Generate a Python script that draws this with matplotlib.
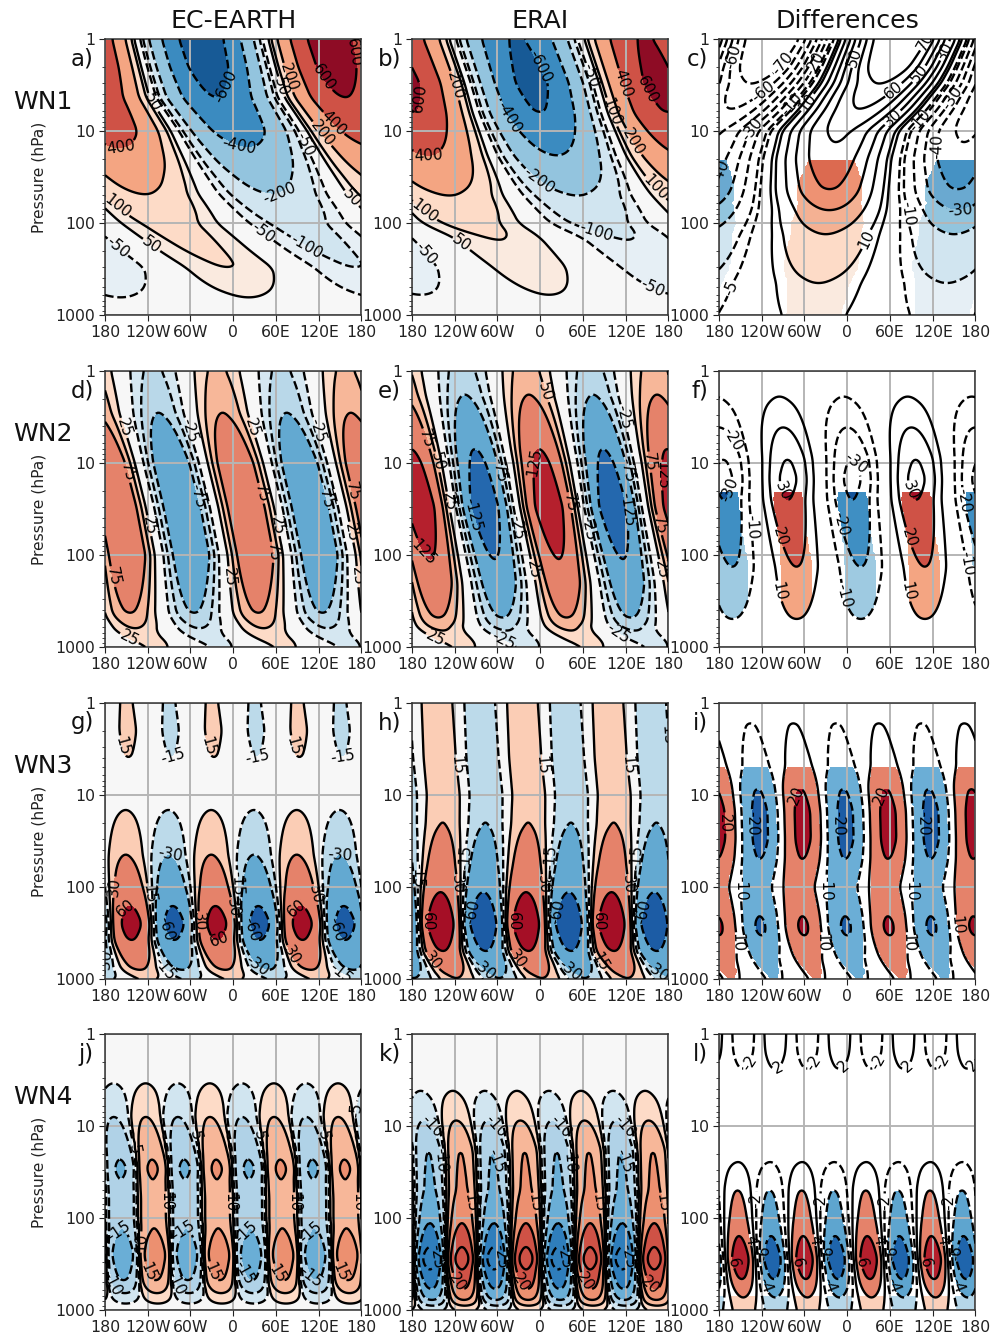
import numpy as np
import matplotlib
matplotlib.use("Agg")
import matplotlib.pyplot as plt
from matplotlib.ticker import FixedLocator, FixedFormatter, NullFormatter

plt.rcParams['font.family'] = 'DejaVu Sans'
plt.rcParams['contour.negative_linestyle'] = 'dashed'

# amplitude and ridge longitude of each zonal wave, read level by level from the picture
p_a = [1, 2, 4.3, 10, 15, 30, 48, 100, 200, 310, 630, 1000]
amp_a = [700, 680, 600, 500, 400, 265, 200, 130, 112, 100, 50, 32]
ph_a = [135, 145, 157, 188, 200, 221, 235, 270, 320, 355, 382, 390]

p_b = [1, 3, 6.4, 18.4, 49, 100, 147, 300, 600, 1000]
amp_b = [610, 650, 600, 400, 200, 130, 100, 80, 50, 30]
ph_b = [147, 168, 180, 203, 231, 262, 301, 344, 373, 385]

p_c = [1, 2, 3, 5.7, 10, 20, 44, 72, 129, 437, 1000]
amp_c = [88, 80, 70, 60, 52, 47, 40, 30, 20, 10, 7]
ph_c = [75, 58, 46, 18, -12, -22, -25, -25, -30, -40, -47]
sig_c_p = [1, 19, 20, 35, 60, 100, 200, 300, 1000]
sig_c_v = [1e6, 1e6, 40, 30, 24, 15, 10, 8, 5.5]

p_d = [1, 2.9, 10, 30, 100, 436, 700, 1000]
amp_d = [55, 75, 118, 122, 120, 75, 42, 28]
ph_d = [-23, -15, 3, 18, 31, 35, 45, 75]

p_e = [1, 1.84, 7, 10, 30, 110, 200, 490, 650, 1000]
amp_e = [62, 75, 125, 135, 160, 125, 112, 75, 50, 28]
ph_e = [-20, -16, -2, 2, 12, 26, 32, 37, 40, 75]

p_f = [1, 1.95, 4.1, 9, 15, 25, 135, 500, 1000]
amp_f = [6, 10, 20, 30, 33, 30, 20, 10, 3]
ph_f = [-100, -95, -90, -84, -83, -83, -71, -71, -71]
sig_f_p = [1, 19, 20, 25, 60, 135, 300, 500, 700, 1000]
sig_f_v = [1e6, 1e6, 24, 22, 19, 14, 10, 9.5, 9.5, 20]

p_g = [1, 2, 4, 8, 14.7, 45, 100, 160, 250, 380, 810, 1000]
amp_g = [16, 17, 15, 9, 15, 30, 45, 60, 72, 60, 30, 15]
ph_g = [-150, -148, -147, -150, -151, -151, -147, -145, -143, -143, -132, -118]

p_h = [1, 4, 10, 21, 60, 115, 250, 500, 950, 1000]
amp_h = [25, 27, 28, 30, 45, 60, 85, 60, 30, 28]
ph_h = [-145, -141, -136, -137, -139, -140, -140, -137, -119, -115]

p_i = [1, 1.6, 3, 5, 8.3, 15, 30, 50, 100, 205, 270, 346, 600, 1000]
amp_i = [5, 10, 12, 14, 20, 22, 22, 20, 16, 20, 21, 20, 14, 11]
ph_i = [-78, -76, -72, -68, -66, -63, -62, -63, -68, -63, -62, -60, -55, -42]
sig_i_p = [1, 4.9, 5, 1000]
sig_i_v = [1e6, 1e6, 11, 11]

p_j = [1, 2, 3.5, 7.9, 23, 30, 36, 60, 100, 135, 250, 490, 660, 840, 1000]
amp_j = [1, 3, 5, 10, 15, 16, 15, 14.5, 14.5, 15, 19, 15, 10, 5, 2.5]
ph_j = [-123, -123, -123, -123, -114, -113, -113, -112, -112, -111, -110, -109, -107, -106, -105]

p_k = [1, 2, 4.25, 8.7, 18.5, 50, 116, 208, 280, 360, 600, 800, 900, 1000]
amp_k = [1, 2.5, 5, 10, 15, 16, 20, 25, 28, 25, 20, 15, 10, 5]
ph_k = [-123, -123, -123, -118, -112, -110, -110, -110, -110, -110, -108, -107, -106, -105]

p_l = [1, 1.5, 2.4, 4, 10, 15, 25, 49, 100, 158, 280, 468, 720, 1000]
amp_l = [3, 2.8, 2, 0.8, 0.5, 1, 2, 4, 5, 6, 7.5, 6, 4, 3]
ph_l = [-101, -101, -101, -115, -130, -145, -154, -154, -153, -152, -150, -148, -146, -145]
sig_l_p = [1, 700, 701, 1000]
sig_l_v = [4, 4, 2, 2]

# contour and fill classes
lev_a = [50, 100, 200, 400, 600]
line_a = [50, 100, 200, 400, 600]
pos_a = ['#faeadf', '#fddbc7', '#f4a582', '#cf5246', '#8e0c25']
neg_a = ['#e6eff5', '#d1e5f0', '#93c4de', '#3b8bc0', '#175a96']
lev_c = [5, 10, 20, 30, 40]
line_c = [5, 10, 20, 30, 40, 50, 60, 70]
pos_c = ['#faeadf', '#fddbc7', '#f4b193', '#ee9273', '#dc6a50']
neg_c = ['#e6eff5', '#d1e5f0', '#92c5de', '#6aa9d0', '#4592c4']
lev_d = [25, 50, 75, 125]
line_d = [25, 50, 75, 125]
pos_d = ['#fddbc7', '#f7b799', '#e5826a', '#b5202d']
neg_d = ['#d5e7f1', '#b9d8e9', '#63a9d1', '#2468ae']
lev_f = [10, 20, 30]
line_f = [10, 20, 30]
pos_f = ['#f4a582', '#cf5246', '#a50f26']
neg_f = ['#9ecae1', '#3f8fc3', '#14549a']
lev_g = [15, 30, 60]
line_g = [15, 30, 60]
pos_g = ['#fbcdb5', '#e5826a', '#a50f26']
neg_g = ['#bcdaea', '#63a9d1', '#1c5ca5']
lev_i = [10, 20]
line_i = [10, 20]
pos_i = ['#e5826a', '#a50f26']
neg_i = ['#6baed6', '#1c5ca5']
lev_j = [5, 10, 15, 20]
line_j = [5, 10, 15, 20, 25, 30]
pos_j = ['#fddbc7', '#f7b799', '#ec9070', '#cf5246']
neg_j = ['#d1e5f0', '#b0d2e7', '#6aaed6', '#2f7ebc']
lev_l = [2, 4, 6]
line_l = [2, 4, 6]
pos_l = ['#fbd0ba', '#e5826a', '#b5202d']
neg_l = ['#b5d6e8', '#5ea5cf', '#1f65ac']

titles = ['EC-EARTH', 'ERAI', 'Differences']
rows = ['WN1', 'WN2', 'WN3', 'WN4']
letters = list('abcdefghijkl')
xtick_vals = [-180, -120, -60, 0, 60, 120, 180]
xtick_labs = ['180', '120W', '60W', '0', '60E', '120E', '180']
ytick_vals = [1, 10, 100, 1000]
ytick_labs = ['1', '10', '100', '1000']

# where the contour labels sit, in picture pixels
lab_a = [(121,148),(152,103),(232,88),(239,147),(279,192),(120,203),(153,243),(118,247),(265,230),
         (307,245),(332,72),(353,53),(337,120),(323,133),(290,77),(280,87),(307,143),(353,197)]
lab_b = [(422,98),(428,155),(457,85),(427,208),(462,243),(427,252),(543,65),(512,115),(538,182),
         (597,230),(653,288),(623,83),(648,90),(633,142),(655,188),(612,112),(592,75)]
lab_c = [(733,57),(782,63),(762,90),(753,130),(817,65),(793,105),(807,102),(722,173),(728,287),(853,57),
         (892,88),(918,73),(927,42),(893,118),(868,240),(910,213),(960,210),(948,147),(950,97),(920,120),(943,50)]
lab_d = [(127,427),(190,430),(254,427),(317,430),(129,472),(194,497),(262,493),(321,497),(350,492),
         (352,532),(153,525),(281,525),(266,553),(111,577),(228,577),(354,577),(131,635)]
lab_e = [(428,438),(437,462),(497,470),(449,502),(477,513),(530,462),(546,392),(568,503),(516,528),(590,528),
         (627,470),(625,510),(625,417),(651,462),(663,475),(659,525),(424,552),(530,570),(659,570),(437,635),
         (505,637),(613,642)]
lab_f = [(735,438),(730,490),(757,527),(787,490),(780,537),(784,590),(857,462),(842,523),(848,595),
         (913,490),(910,537),(913,590),(967,500),(970,563)]
lab_g = [(125,745),(210,745),(296,745),(173,757),(258,757),(343,757),(171,853),(341,853),(113,887),(147,894),
         (125,908),(171,927),(199,922),(218,937),(231,908),(240,883),(256,928),(258,965),(296,908),(317,894),
         (341,928),(295,953),(107,962),(165,968),(341,972)]
lab_h = [(457,765),(542,765),(627,765),(463,857),(550,857),(635,857),(453,885),(539,885),(624,885),(434,922),
         (518,922),(603,922),(473,912),(559,912),(644,912),(416,875),(485,968),(570,970),(657,972),(431,962),
         (516,960),(601,962),(665,732)]
lab_i = [(725,823),(792,795),(752,823),(747,888),(732,943),(837,823),(832,888),(817,943),(878,795),(902,943),
         (923,823),(917,888),(960,925)]
lab_j = [(115,1283),(122,1233),(132,1147),(165,1202),(153,1270),(140,1242),(193,1133),(180,1282),(185,1232),
         (230,1203),(217,1270),(257,1133),(247,1233),(242,1273),(293,1203),(282,1272),(322,1133),(312,1233),
         (310,1278),(357,1203),(345,1270),(358,1110)]
lab_k = [(431,1127),(437,1160),(495,1127),(500,1160),(560,1127),(566,1160),(624,1127),(628,1160),(471,1203),
         (535,1203),(599,1203),(663,1203),(462,1280),(525,1280),(589,1280),(655,1282),(433,1257),(497,1257),
         (560,1257),(624,1257)]
lab_l = [(747,1062),(776,1065),(811,1062),(842,1065),(877,1062),(906,1065),(941,1062),(972,1065),(757,1200),
         (765,1285),(749,1240),(736,1262),(767,1253),(821,1202),(815,1240),(802,1262),(830,1253),(830,1285),
         (885,1202),(879,1240),(867,1262),(894,1253),(894,1285),(948,1202),(942,1240),(931,1262),(958,1253),(958,1285)]

panels = [
    (p_a, amp_a, ph_a, 1, 1.0, lev_a, line_a, pos_a, neg_a, '#f7f7f7', None, lab_a),
    (p_b, amp_b, ph_b, 1, 1.0, lev_a, line_a, pos_a, neg_a, '#f7f7f7', None, lab_b),
    (p_c, amp_c, ph_c, 1, 1.0, lev_c, line_c, pos_c, neg_c, None, (sig_c_p, sig_c_v), lab_c),
    (p_d, amp_d, ph_d, 2, 1.0, lev_d, line_d, pos_d, neg_d, '#f7f7f7', None, lab_d),
    (p_e, amp_e, ph_e, 2, 1.0, lev_d, line_d, pos_d, neg_d, '#f7f7f7', None, lab_e),
    (p_f, amp_f, ph_f, 2, 1.0, lev_f, line_f, pos_f, neg_f, None, (sig_f_p, sig_f_v), lab_f),
    (p_g, amp_g, ph_g, 3, 0.6, lev_g, line_g, pos_g, neg_g, '#f7f7f7', None, lab_g),
    (p_h, amp_h, ph_h, 3, 0.6, lev_g, line_g, pos_g, neg_g, '#f7f7f7', None, lab_h),
    (p_i, amp_i, ph_i, 3, 0.55, lev_i, line_i, pos_i, neg_i, None, (sig_i_p, sig_i_v), lab_i),
    (p_j, amp_j, ph_j, 4, 0.35, lev_j, line_j, pos_j, neg_j, '#f7f7f7', None, lab_j),
    (p_k, amp_k, ph_k, 4, 0.4, lev_j, line_j, pos_j, neg_j, '#f7f7f7', None, lab_k),
    (p_l, amp_l, ph_l, 4, 0.55, lev_l, line_l, pos_l, neg_l, None, (sig_l_p, sig_l_v), lab_l),
]

W, H = 1003, 1337
fig = plt.figure(figsize=(W / 100, H / 100), dpi=100)

lon = np.linspace(-180, 180, 181)
logp = np.linspace(0, 3, 181)


def smooth(y, n=7):
    pad = np.r_[np.full(n, y[0]), y, np.full(n, y[-1])]
    return np.convolve(pad, np.ones(n) / n, mode='same')[n:-n]


def wave_field(plev, amp, phase, k, gamma):
    x = np.log10(plev)
    A = smooth(np.interp(logp, x, amp))[:, None]
    P = smooth(np.interp(logp, x, phase))[:, None]
    c = np.cos(np.radians(k * (lon[None, :] - P)))
    return A * np.sign(c) * np.abs(c) ** gamma


lefts = [105, 412, 719]
tops = [39, 371, 703, 1034]
aw, ah = 256.5, 276
for idx, spec in enumerate(panels):
    plev, amp, phase, k, gamma, lev, line, pos, neg, mid, sig, labs = spec
    r, c = idx // 3, idx % 3
    ax = fig.add_axes([lefts[c] / W, 1 - (tops[r] + ah) / H, aw / W, ah / H])
    ax.set_yscale('log')
    ax.set_xlim(-180, 180)
    ax.set_ylim(1000, 1)
    z = wave_field(plev, amp, phase, k, gamma)
    zf = z.copy()
    if sig is not None:
        thr = np.interp(logp, np.log10(sig[0]), sig[1])[:, None]
        zf = np.ma.masked_where(np.abs(z) < thr, z)
    big = 1e5
    bounds = [-big] + [-v for v in lev[::-1]] + lev + [big]
    cols = neg[::-1] + [mid if mid else '#ffffff'] + pos
    P = 10 ** logp
    ax.contourf(lon, P, zf, levels=bounds, colors=cols, zorder=1)
    lv = [-v for v in line[::-1]] + line
    cs = ax.contour(lon, P, z, levels=lv, colors='k', linewidths=1.7, zorder=3)
    ax.set_xlim(-180, 180)
    ax.set_ylim(1000, 1)
    spots = [((x - lefts[c]) / aw * 360 - 180, 10 ** ((y - tops[r]) / ah * 3)) for x, y in labs]
    ax.clabel(cs, fmt='%d', fontsize=11, inline=True, inline_spacing=1, manual=spots)
    ax.xaxis.set_major_locator(FixedLocator(xtick_vals))
    ax.xaxis.set_major_formatter(FixedFormatter(xtick_labs))
    ax.yaxis.set_major_locator(FixedLocator(ytick_vals))
    ax.yaxis.set_major_formatter(FixedFormatter(ytick_labs))
    ax.yaxis.set_minor_formatter(NullFormatter())
    ax.tick_params(axis='both', which='major', labelsize=11.3, colors='#222222', length=4, pad=3)
    ax.tick_params(axis='y', which='minor', length=2.2, color='#222222')
    ax.grid(True, which='major', color='#b5b5b5', lw=1.4, zorder=2)
    for s in ax.spines.values():
        s.set_color('#333333')
        s.set_linewidth(1.1)
    if c == 0:
        fig.text(39 / W, 1 - (tops[r] + 138) / H, 'Pressure (hPa)', rotation=90,
                 ha='center', va='center', fontsize=11.2, color='#222222')
        fig.text(13 / W, 1 - (tops[r] + 63) / H, rows[r], ha='left', va='center',
                 fontsize=18, color='#111111')
    if r == 0:
        fig.text((lefts[c] + aw / 2) / W, 1 - 21 / H, titles[c], ha='center', va='center',
                 fontsize=18.2, color='#111111')
    fig.text((lefts[c] - 11) / W, 1 - (tops[r] + 20) / H, letters[idx] + ')', ha='right',
             va='center', fontsize=16.5, color='#111111')

fig.savefig('out.png', dpi=100)
